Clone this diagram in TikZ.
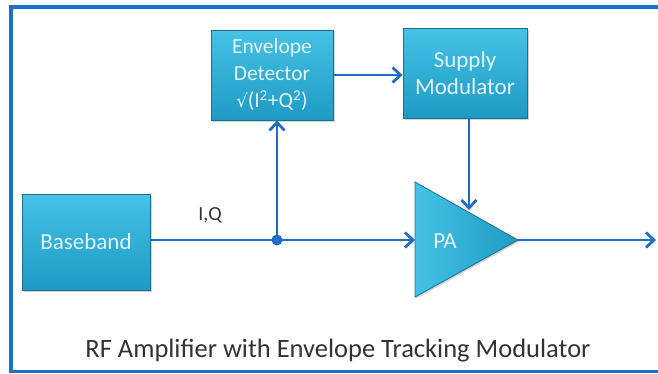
\documentclass[tikz,border=0pt]{standalone}
\usepackage{fontspec}
\setmainfont{Carlito}
\newfontfamily\dvsans{DejaVu Sans}
\usetikzlibrary{arrows.meta,shadows}
\definecolor{frameblue}{HTML}{1A72C6}
\definecolor{lineblue}{HTML}{1F6EC4}
\definecolor{boxtop}{HTML}{45C2E6}
\definecolor{boxbot}{HTML}{1E9AC4}
\definecolor{boxedge}{HTML}{1B6F93}
\definecolor{boxtext}{HTML}{E4F3FA}
\definecolor{captext}{HTML}{333333}
\tikzset{
  blk/.style={draw=boxedge, line width=0.8pt, top color=boxtop, bottom color=boxbot,
    text=boxtext, align=center, font=\fontsize{23}{27}\selectfont, inner sep=0pt,
    drop shadow={shadow xshift=1.5pt, shadow yshift=-1.5pt, opacity=0.35}},
  wire/.style={draw=lineblue, line width=2.8pt},
  arr/.style={wire, -{Straight Barb[length=8pt,width=15pt,line width=2.8pt]}},
}
\begin{document}
\begin{tikzpicture}[x=1pt,y=-1pt]
\useasboundingbox (0,0) rectangle (658,373);
\begin{scope}
\clip (0,0) rectangle (658,373);
\draw[frameblue, line width=3.8pt] (11,7) rectangle (700,371.5);
\end{scope}
% blocks
\node[blk, font=\fontsize{21.5}{27}\selectfont, minimum width=122pt, minimum height=90pt] (ed) at (272,75) {Envelope\\Detector\\{\dvsans\fontsize{18}{27}\selectfont √}(I\textsuperscript{2}+Q\textsuperscript{2})};
\node[blk, minimum width=124pt, minimum height=90pt] (sm) at (465,73) {Supply\\Modulator};
\node[blk, minimum width=128pt, minimum height=96pt] (bb) at (86,242) {Baseband};
% PA triangle
\coordinate (pal) at (415,182);
\coordinate (pab) at (415,297);
\coordinate (pat) at (518,240);
\shade[left color=boxtop, right color=boxbot, draw=boxedge, line width=0.8pt,
  drop shadow={shadow xshift=1.5pt, shadow yshift=-1.5pt, opacity=0.35}]
  (pal) -- (pat) -- (pab) -- cycle;
\node[text=boxtext, font=\fontsize{23}{27}\selectfont] (pa) at (445,241) {PA};
% wires
\coordinate (j) at (277,240);
\coordinate (pin) at (415,240);
\coordinate (out) at (656,240);
\coordinate (smin) at (469,210);
\draw[wire] (bb.east |- j) -- (j);
\draw[arr] (j) -- (pin);
\draw[arr] (j) -- (j |- ed.south);
\fill[lineblue] (j) circle (5.5pt);
\draw[arr] (ed.east) -- (sm.west |- ed.east);
\draw[arr] (smin |- sm.south) -- (smin);
\draw[arr] (pat) -- (out);
\node[font=\fontsize{20}{24}\selectfont, text=captext] (iq) at (210,215) {I,Q};
\node[font=\fontsize{26.5}{30}\selectfont, text=captext] (cap) at (338,351) {RF Amplifier with Envelope Tracking Modulator};
\end{tikzpicture}
\end{document}
